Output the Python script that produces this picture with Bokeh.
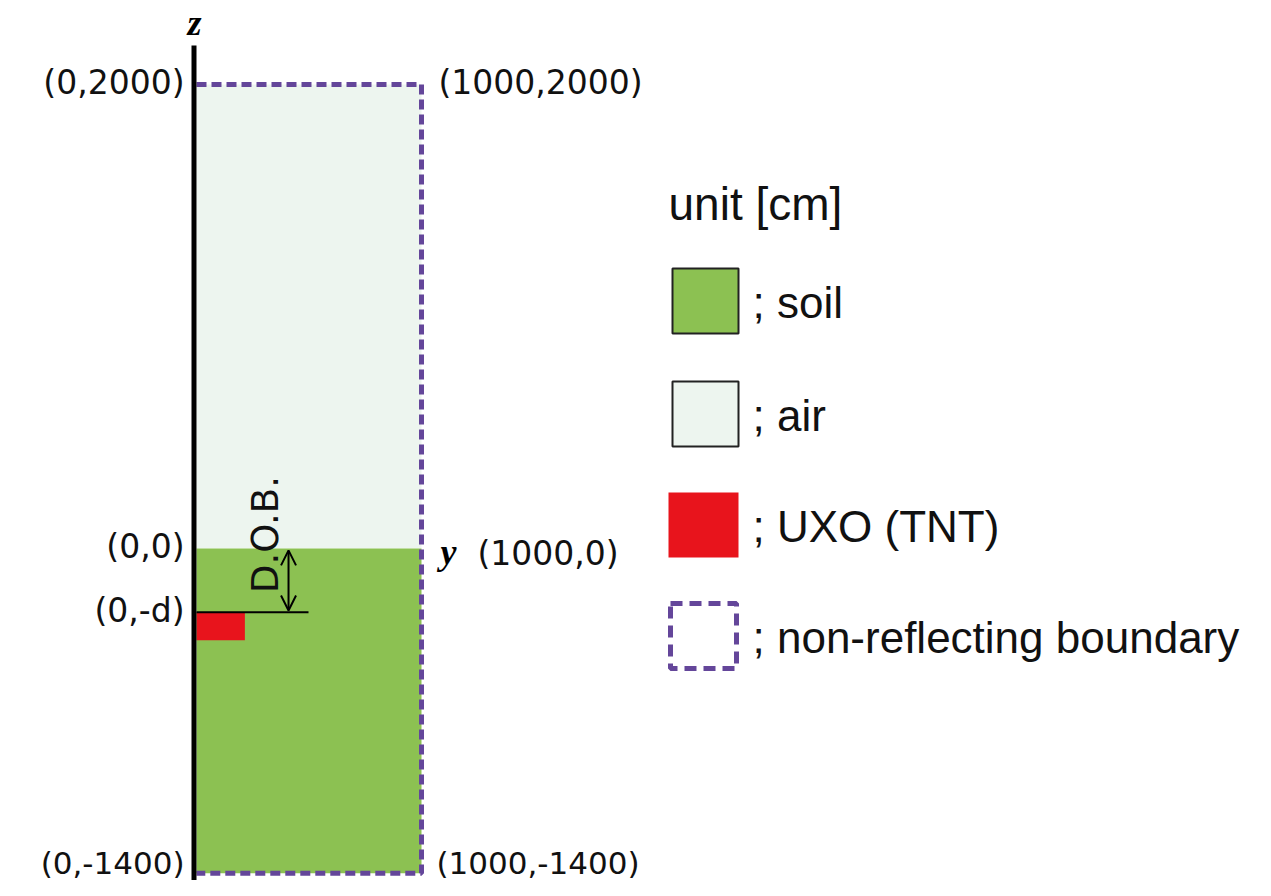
from bokeh.plotting import figure
from bokeh.models import Range1d, Arrow, OpenHead
from bokeh.core.properties import value
from bokeh.embed import file_html
from bokeh.resources import INLINE

# ---- data (cm) ----
domain_y = [0, 1000]
air_z = [0, 2000]
soil_z = [-1400, 0]
uxo_y = [0, 215]
uxo_z = [-395, -275]
depth_d = 275
dob_x = 409
left_labels = ["(0,2000)", "(0,0)", "(0,-d)"]
left_label_z = [2000, 0, -depth_d]
bottom_left_label = "(0,-1400)"
right_labels = ["(1000,2000)"]
right_label_z = [2000]
bottom_right_label = "(1000,-1400)"
legend_title = "unit [cm]"
legend_labels = ["; soil", "; air", "; UXO (TNT)", "; non-reflecting boundary"]

SOIL = "#8cc152"
AIR = "#edf5ef"
UXO = "#e8141c"
BND = "#64469a"

# ---- pixel/data mapping (reference pixels) ----
SX, SZ = 0.225, 0.232
OX, OY = 196, 548
def dx(X):
    return (X - OX) / SX
def dz(Y):
    return (OY - Y) / SZ

W, H = 1255, 880
p = figure(width=W, height=H, output_backend="svg", toolbar_location=None,
           x_range=Range1d(dx(0), dx(W)), y_range=Range1d(dz(H), dz(0)),
           min_border=0, background_fill_color="white", border_fill_color="white")
p.axis.visible = False
p.grid.visible = False
p.outline_line_color = None

# regions
p.quad(left=[domain_y[0]], right=[domain_y[1]], bottom=[air_z[0]], top=[air_z[1]],
       fill_color=AIR, line_color=None)
p.quad(left=[domain_y[0]], right=[domain_y[1]], bottom=[soil_z[0]], top=[soil_z[1]],
       fill_color=SOIL, line_color=None)
p.quad(left=[uxo_y[0]], right=[uxo_y[1]], bottom=[uxo_z[0]], top=[uxo_z[1]],
       fill_color=UXO, line_color=None)

# non-reflecting boundary (top, right, bottom)
p.line(x=[domain_y[0], domain_y[1], domain_y[1], domain_y[0]],
       y=[air_z[1], air_z[1], soil_z[0], soil_z[0]],
       line_color=BND, line_width=5, line_dash="10 5")

# z axis line
p.line(x=[dx(193.5), dx(193.5)], y=[dz(45), dz(H)], line_color="black", line_width=5)

# D.O.B. annotation
p.line(x=[0, dx(308)], y=[-depth_d, -depth_d], line_color="black", line_width=2)
p.add_layout(Arrow(x_start=dob_x, y_start=-depth_d + 8, x_end=dob_x, y_end=-8,
                   start=OpenHead(size=15, line_width=2), end=OpenHead(size=15, line_width=2),
                   line_width=2, line_color="black"))
p.text(x=[dx(265)], y=[dz(534)], text=["D.O.B."], angle=1.5708,
       text_align="center", text_baseline="middle",
       text_font=value("DejaVu Sans"), text_font_size="37px", text_color="#111111")

# coordinate labels
FS = "33px"
p.text(x=[0] * len(left_labels), y=left_label_z, text=left_labels,
       x_offset=-12, y_offset=-2, text_align="right", text_baseline="middle",
       text_font=value("DejaVu Sans"), text_font_size=FS, text_color="#111111")
p.text(x=[1000] * len(right_labels), y=right_label_z, text=right_labels,
       x_offset=17, y_offset=-2, text_align="left", text_baseline="middle",
       text_font=value("DejaVu Sans"), text_font_size=FS, text_color="#111111")
p.text(x=[1000], y=[0], text=["(1000,0)"], x_offset=56, y_offset=5,
       text_align="left", text_baseline="middle",
       text_font=value("DejaVu Sans"), text_font_size=FS, text_color="#111111")
p.text(x=[0], y=[-1400], text=[bottom_left_label], x_offset=-12, y_offset=-10,
       text_align="right", text_baseline="middle",
       text_font=value("DejaVu Sans"), text_font_size="31px", text_color="#111111")
p.text(x=[1000], y=[-1400], text=[bottom_right_label], x_offset=15, y_offset=-10,
       text_align="left", text_baseline="middle",
       text_font=value("DejaVu Sans"), text_font_size="31px", text_color="#111111")

# axis letters
p.text(x=[dx(194)], y=[dz(22)], text=["z"], text_align="center", text_baseline="middle",
       text_font=value("Liberation Serif"), text_font_style="bold italic",
       text_font_size="36px", text_color="black")
p.text(x=[1000], y=[0], text=["y"], x_offset=27, y_offset=3, text_align="center",
       text_baseline="middle", text_font=value("Liberation Serif"),
       text_font_style="bold italic", text_font_size="36px", text_color="black")

# legend
LFS = "44px"
p.text(x=[dx(668)], y=[dz(203)], text=[legend_title], text_align="left", text_baseline="middle",
       text_font=value("Liberation Sans"), text_font_size="46px", text_color="#111111")
box_tops = [268, 381, 492, 603]
box_lefts = [672, 672, 668, 670]
box_right = 738
box_h = 65
p.quad(left=[dx(box_lefts[0])], right=[dx(box_right)], top=[dz(box_tops[0])],
       bottom=[dz(box_tops[0] + box_h)], fill_color=SOIL, line_color="#222222", line_width=2)
p.quad(left=[dx(box_lefts[1])], right=[dx(box_right)], top=[dz(box_tops[1])],
       bottom=[dz(box_tops[1] + box_h)], fill_color=AIR, line_color="#222222", line_width=2)
p.quad(left=[dx(box_lefts[2])], right=[dx(box_right)], top=[dz(box_tops[2])],
       bottom=[dz(box_tops[2] + box_h)], fill_color=UXO, line_color=None)
p.quad(left=[dx(box_lefts[3])], right=[dx(box_right - 2)], top=[dz(box_tops[3])],
       bottom=[dz(box_tops[3] + box_h)], fill_color=None, line_color=BND, line_width=5,
       line_dash="12 7")
label_y = [dz(t + box_h / 2 + 1) for t in box_tops]
p.text(x=[dx(752)] * len(legend_labels), y=label_y, text=legend_labels,
       text_align="left", text_baseline="middle",
       text_font=value("Liberation Sans"), text_font_size=LFS, text_color="#111111")

open("out.html", "w").write(file_html(p, INLINE))
